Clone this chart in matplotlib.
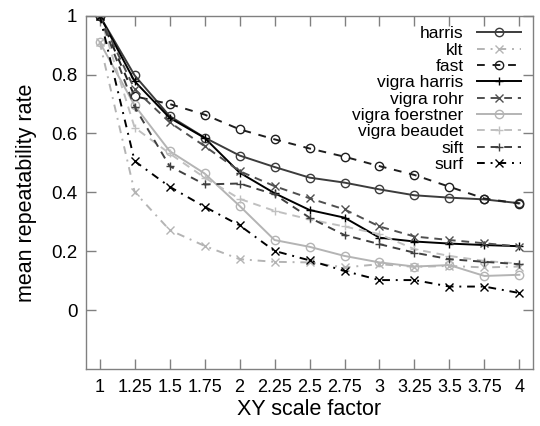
import matplotlib
matplotlib.use("Agg")
import matplotlib.pyplot as plt

plt.rcParams['font.family'] = ['Liberation Sans', 'DejaVu Sans']

scale = [1, 1.25, 1.5, 1.75, 2, 2.25, 2.5, 2.75, 3, 3.25, 3.5, 3.75, 4]

harris = [1.0, 0.797, 0.659, 0.586, 0.525, 0.486, 0.45, 0.433, 0.41, 0.39, 0.382, 0.376, 0.363]
klt = [0.91, 0.401, 0.272, 0.218, 0.173, 0.164, 0.162, 0.145, 0.156, 0.147, 0.15, 0.145, 0.148]
fast = [1.0, 0.726, 0.70, 0.664, 0.614, 0.58, 0.549, 0.521, 0.489, 0.459, 0.419, 0.379, 0.362]
vigra_harris = [1.0, 0.777, 0.653, 0.585, 0.467, 0.397, 0.34, 0.314, 0.246, 0.233, 0.226, 0.221, 0.217]
vigra_rohr = [1.0, 0.75, 0.638, 0.557, 0.472, 0.421, 0.38, 0.342, 0.284, 0.25, 0.238, 0.227, 0.216]
vigra_foerstner = [0.91, 0.695, 0.54, 0.464, 0.354, 0.238, 0.215, 0.184, 0.162, 0.148, 0.153, 0.116, 0.12]
vigra_beaudet = [1.0, 0.62, 0.532, 0.45, 0.378, 0.337, 0.308, 0.284, 0.258, 0.207, 0.184, 0.167, 0.158]
sift = [1.0, 0.69, 0.489, 0.427, 0.43, 0.393, 0.314, 0.255, 0.224, 0.195, 0.173, 0.164, 0.156]
surf = [1.0, 0.506, 0.419, 0.351, 0.288, 0.201, 0.169, 0.133, 0.102, 0.102, 0.08, 0.08, 0.058]

names = ["harris", "klt", "fast", "vigra harris", "vigra rohr",
         "vigra foerstner", "vigra beaudet", "sift", "surf"]
series = [harris, klt, fast, vigra_harris, vigra_rohr,
          vigra_foerstner, vigra_beaudet, sift, surf]

# gnuplot-ish monochrome styles
styles = [
    dict(color='#3c3c3c', ls='-', marker='o'),
    dict(color='#b4b4b4', ls=(0, (4, 3, 1, 3)), marker='x'),
    dict(color='#1e1e1e', ls=(0, (4, 4)), marker='o'),
    dict(color='#000000', ls='-', marker='+'),
    dict(color='#505050', ls=(0, (4, 3)), marker='x'),
    dict(color='#b4b4b4', ls='-', marker='o'),
    dict(color='#c0c0c0', ls=(0, (4, 3)), marker='+'),
    dict(color='#404040', ls=(0, (4, 3)), marker='+'),
    dict(color='#000000', ls=(0, (4, 3, 1, 3)), marker='x'),
]

fig = plt.figure(figsize=(5.4, 4.26), dpi=100)
ax = fig.add_axes([0.1587, 0.1338, 0.829, 0.8294])

for name, vals, st in zip(names, series, styles):
    ax.plot(scale, vals, color=st['color'], linestyle=st['ls'], marker=st['marker'],
            markersize=6, markeredgewidth=1, markerfacecolor='none', linewidth=1.4,
            label=name)

ax.set_xlim(0.9, 4.1)
ax.set_ylim(-0.2, 1.0)
ax.set_xticks(scale)
ax.set_xticklabels(["%g" % s for s in scale])
ax.set_yticks([0, 0.2, 0.4, 0.6, 0.8, 1.0])
ax.set_yticklabels(["0", "0.2", "0.4", "0.6", "0.8", "1"])
ax.tick_params(direction='in', length=7, width=1, color='#808080',
               top=True, right=True, labelsize=13.5, pad=6)
ax.tick_params(axis='x', labelsize=13, pad=7)
for sp in ax.spines.values():
    sp.set_color('#808080')
    sp.set_linewidth(1)

ax.set_xlabel("XY scale factor", fontsize=15.5, labelpad=2)
ax.set_ylabel("mean repeatability rate", fontsize=15.5, labelpad=10)

leg = ax.legend(loc='upper right', markerfirst=False, frameon=False, numpoints=1,
                fontsize=12.5, handlelength=2.5, handletextpad=0.8, labelspacing=0.07,
                borderaxespad=0.2, bbox_to_anchor=(0.995, 1.0))
for col in leg._legend_handle_box.get_children():
    col.align = "right"

plt.savefig('out.png', dpi=100)
plt.close(fig)
